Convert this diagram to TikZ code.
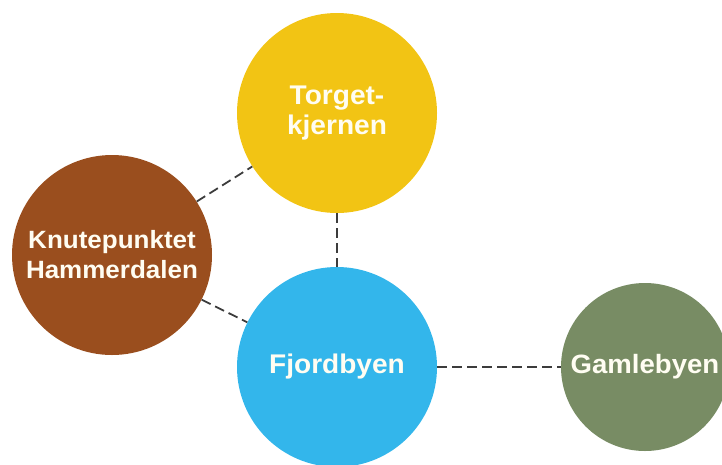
\documentclass[tikz,border=0pt]{standalone}
\usepackage{fontspec}
\setmainfont[FakeStretch=1.04]{Liberation Sans}
\definecolor{cyellow}{HTML}{F2C414}
\definecolor{cbrown}{HTML}{9A4E1E}
\definecolor{cblue}{HTML}{33B6EB}
\definecolor{cgreen}{HTML}{788C64}
\definecolor{ctext}{HTML}{FFFDF2}
\definecolor{cdash}{HTML}{3C3C3C}
\begin{document}
\begin{tikzpicture}[x=1pt,y=-1pt,
  place/.style={circle,draw=none,inner sep=0pt,text=ctext,align=center,
    font=\bfseries\fontsize{27}{30}\selectfont},
  link/.style={draw=cdash,line width=1.8pt,dash pattern=on 10pt off 5pt}]
\useasboundingbox (0,0) rectangle (722,464);
\clip (0,0) rectangle (722,464);
\node[place,fill=cyellow,minimum size=200pt] (torget) at (337,113) {Torget-\\kjernen};
\node[place,fill=cbrown,minimum size=200pt,font=\bfseries\fontsize{25}{30}\selectfont] (knute) at (112,255) {Knutepunktet\\Hammerdalen};
\node[place,fill=cblue,minimum size=200pt] (fjord) at (337,367) {Fjordbyen};
\node[place,fill=cgreen,minimum size=168pt,font=\bfseries\fontsize{26.5}{30}\selectfont] (gamle) at (645,367) {Gamlebyen};
\draw[link] (knute) -- (torget);
\draw[link] (knute) -- (fjord);
\draw[link] (torget) -- (fjord);
\draw[link] (fjord) -- (gamle);
\end{tikzpicture}
\end{document}
